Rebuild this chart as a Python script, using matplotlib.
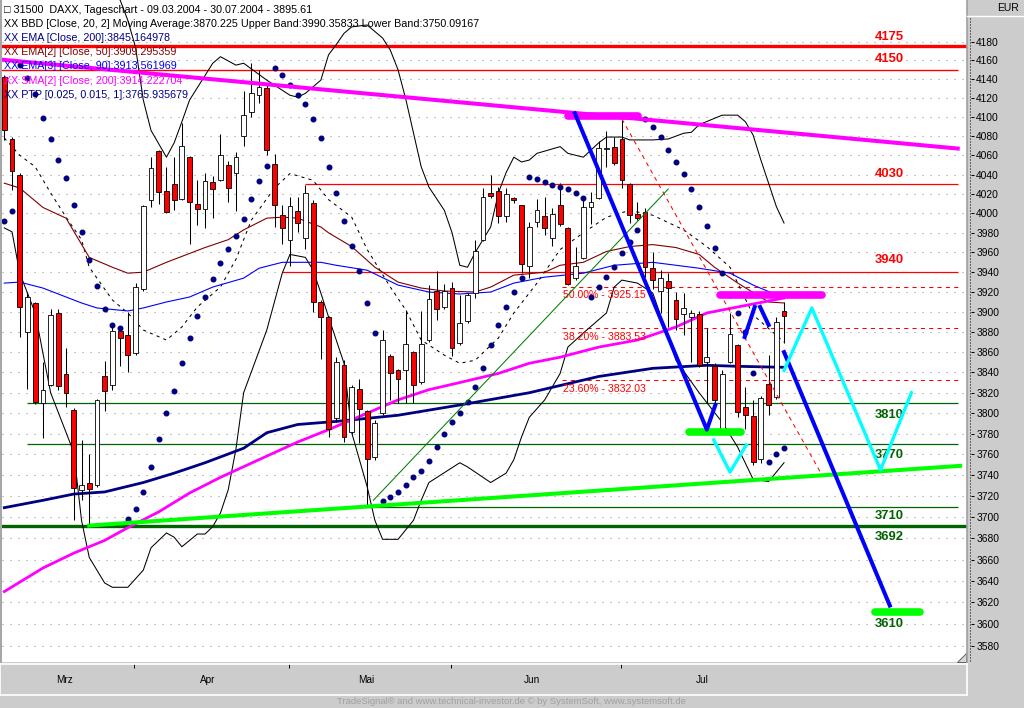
import pandas as pd
import matplotlib
matplotlib.use('Agg')
import matplotlib.pyplot as plt
from matplotlib.lines import Line2D
from matplotlib.patches import Polygon
from matplotlib.ticker import FixedLocator, NullLocator, FuncFormatter
from matplotlib import font_manager

# trading days shown (Xetra, Good Friday / Easter Monday closed)
days = pd.bdate_range('2004-03-09', '2004-07-30')
days = days.drop(pd.to_datetime(['2004-04-09', '2004-04-12']))

# daily candles
opens = [4142, 4077, 4040, 3880, 3909, 3810, 3828, 3899, 3838, 3803,
         3726, 3733, 3731, 3836, 3828, 3881, 3877, 3859, 3923, 4014,
         4064, 4023, 4030, 4015, 4058, 4010, 4004, 4032, 4034, 4050,
         4042, 4080, 4105, 4123, 4131, 4051, 3998, 3973, 4002, 3975,
         4011, 3910, 3895, 3795, 3847, 3782, 3824, 3802, 3758, 3800,
         3856, 3842, 3842, 3860, 3831, 3872, 3921, 3905, 3924, 3869,
         3891, 3919, 3973, 4021, 4023, 3997, 4016, 4008, 3946, 3991,
         3997, 3975, 4008, 3985, 3934, 3954, 4006, 4016, 4067, 4069,
         4077, 4030, 3999, 4001, 3944, 3921, 3931, 3912, 3898, 3895,
         3898, 3850, 3846, 3785, 3850, 3867, 3806, 3797, 3756, 3829,
         3816, 3901]
highs = [4144, 4079, 4042, 3920, 3910, 3850, 3903, 3903, 3864, 3805,
         3774, 3760, 3814, 3851, 3889, 3885, 3900, 3929, 4008, 4058,
         4066, 4048, 4058, 4094, 4059, 4034, 4042, 4038, 4082, 4054,
         4063, 4128, 4157, 4150, 4135, 4061, 4008, 4017, 4017, 4029,
         4014, 3912, 3896, 3855, 3852, 3828, 3833, 3803, 3793, 3882,
         3858, 3843, 3902, 3861, 3901, 3927, 3941, 3928, 3930, 3917,
         3919, 3973, 4026, 4040, 4027, 4026, 4017, 4009, 3991, 4015,
         4017, 4005, 4031, 3986, 3966, 4014, 4022, 4075, 4085, 4079,
         4097, 4031, 4012, 4005, 3960, 3942, 3939, 3920, 3919, 3902,
         3901, 3884, 3849, 3842, 3899, 3868, 3826, 3813, 3817, 3857,
         3895, 3910]
lows = [4076, 4024, 3875, 3824, 3809, 3776, 3827, 3823, 3806, 3697,
        3716, 3692, 3729, 3802, 3823, 3846, 3840, 3857, 3921, 4006,
        4010, 4000, 4003, 4014, 3969, 3988, 3985, 3995, 4033, 4012,
        4002, 4070, 4100, 4115, 4060, 3986, 3969, 3946, 3981, 3964,
        3900, 3853, 3777, 3791, 3772, 3780, 3771, 3711, 3755, 3798,
        3813, 3810, 3810, 3810, 3829, 3870, 3892, 3903, 3856, 3867,
        3889, 3914, 3972, 4016, 3990, 3991, 4011, 3939, 3934, 3986,
        3978, 3967, 3987, 3927, 3932, 3953, 3989, 4015, 4048, 4050,
        4026, 3990, 3993, 3935, 3923, 3899, 3885, 3882, 3877, 3850,
        3845, 3810, 3810, 3783, 3849, 3796, 3785, 3750, 3752, 3798,
        3814, 3869]
closes = [4086, 4044, 3905, 3915, 3811, 3823, 3897, 3827, 3820, 3728,
          3731, 3727, 3813, 3822, 3881, 3874, 3857, 3925, 4007, 4047,
          4022, 4001, 4014, 4070, 4012, 4004, 4033, 4025, 4060, 4026,
          4058, 4102, 4125, 4132, 4065, 4008, 3985, 4007, 3990, 4021,
          3910, 3895, 3785, 3850, 3777, 3826, 3804, 3756, 3790, 3872,
          3839, 3833, 3868, 3828, 3868, 3913, 3903, 3921, 3864, 3889,
          3917, 3961, 4017, 4018, 3997, 4020, 4014, 3948, 3986, 4003,
          3985, 3999, 3989, 3928, 3946, 4006, 4012, 4068, 4068, 4052,
          4034, 3998, 3995, 3945, 3932, 3934, 3924, 3893, 3904, 3899,
          3847, 3855, 3813, 3838, 3878, 3801, 3798, 3753, 3815, 3808,
          3890, 3896]

# indicators (trading-day index, value)
bb_up_i = [0, 2, 5, 7, 9, 10, 12, 15, 16, 17, 18, 19, 21, 22, 23, 24, 27, 28, 30, 31,
           34, 37, 38, 39, 41, 42, 43, 44, 45, 47, 49, 50, 51, 52, 54, 55, 57, 58, 59, 60,
           61, 63, 64, 65, 66, 67, 68, 69, 72, 73, 75, 77, 78, 80, 81, 84, 86, 88, 89, 90,
           93, 95, 96, 97, 98, 99, 100, 101]
bb_up = [4232, 4238, 4245, 4250, 4252, 4252, 4246, 4225, 4203, 4174, 4118, 4086, 4058, 4073,
         4095, 4118, 4157, 4164, 4155, 4157, 4139, 4123, 4121, 4125, 4139, 4166, 4177, 4189,
         4196, 4198, 4184, 4171, 4150, 4119, 4048, 4027, 4003, 3980, 3947, 3945, 3960, 3986,
         4021, 4042, 4058, 4053, 4055, 4062, 4069, 4062, 4058, 4073, 4079, 4079, 4076, 4076,
         4077, 4083, 4084, 4092, 4102, 4102, 4095, 4081, 4055, 4031, 4007, 3990]
bb_lo_i = [0, 1, 2, 4, 5, 6, 9, 10, 11, 13, 14, 16, 18, 19, 21, 22, 23, 25, 26, 27,
           28, 29, 30, 31, 34, 36, 37, 39, 40, 41, 42, 44, 45, 47, 48, 49, 51, 53, 54, 55,
           59, 60, 63, 65, 66, 67, 68, 70, 72, 73, 75, 78, 79, 80, 82, 84, 87, 90, 93, 95,
           97, 99, 101]
bb_lo = [3985, 3981, 3939, 3899, 3859, 3820, 3762, 3697, 3662, 3638, 3634, 3634, 3650, 3671,
         3685, 3681, 3672, 3684, 3684, 3691, 3704, 3726, 3765, 3820, 3882, 3939, 3958, 3955,
         3942, 3919, 3895, 3849, 3781, 3729, 3697, 3679, 3679, 3697, 3716, 3733, 3752, 3748,
         3733, 3742, 3755, 3777, 3796, 3813, 3839, 3865, 3879, 3899, 3925, 3932, 3929, 3919,
         3852, 3820, 3791, 3767, 3736, 3734, 3752]
ma20_i = [0, 2, 4, 6, 8, 10, 11, 14, 16, 18, 21, 23, 25, 28, 30, 32, 35, 37, 40, 42,
          45, 47, 50, 52, 54, 57, 59, 61, 64, 66, 69, 72, 75, 78, 81, 84, 88, 91, 94, 97, 101]
ma20 = [4078, 4060, 4048, 4021, 3996, 3973, 3945, 3912, 3899, 3882, 3872, 3885, 3905, 3925,
        3953, 3993, 4026, 4041, 4034, 4014, 3996, 3963, 3925, 3902, 3872, 3857, 3849, 3852,
        3874, 3899, 3929, 3963, 3980, 3996, 4003, 3998, 3983, 3966, 3945, 3897, 3870]
ema50_i = [0, 2, 5, 8, 11, 14, 16, 18, 21, 24, 26, 29, 31, 34, 36, 38, 41, 42, 45, 48,
           51, 54, 57, 61, 63, 66, 70, 72, 75, 78, 81, 84, 87, 90, 92, 95, 99, 101]
ema50 = [4031, 4026, 4006, 3995, 3955, 3945, 3939, 3940, 3950, 3959, 3965, 3973, 3983, 3995,
         3996, 3995, 3986, 3980, 3966, 3945, 3930, 3924, 3921, 3920, 3925, 3937, 3940, 3947,
         3950, 3961, 3966, 3968, 3965, 3958, 3945, 3929, 3910, 3909]
ema90_i = [0, 2, 5, 8, 10, 12, 16, 18, 21, 24, 27, 31, 33, 36, 38, 41, 43, 47, 51, 55,
           59, 63, 66, 70, 75, 79, 84, 87, 90, 94, 97, 101]
ema90 = [3929, 3930, 3924, 3915, 3909, 3904, 3901, 3904, 3910, 3915, 3925, 3934, 3944, 3950,
         3950, 3950, 3947, 3942, 3927, 3920, 3918, 3920, 3929, 3935, 3939, 3947, 3950, 3947,
         3944, 3939, 3927, 3914]
ema200_i = [0, 5, 9, 13, 18, 22, 26, 31, 34, 38, 43, 51, 59, 68, 77, 84, 91, 95, 101]
ema200 = [3709, 3716, 3722, 3724, 3733, 3742, 3752, 3766, 3781, 3789, 3792, 3798, 3808,
          3820, 3836, 3844, 3847, 3846, 3845]
sma200_i = [0, 5, 9, 13, 16, 20, 24, 28, 33, 38, 42, 47, 51, 55, 59, 64, 68, 72, 77, 82,
            87, 91, 95, 101]
sma200 = [3630, 3652, 3666, 3678, 3690, 3705, 3723, 3738, 3755, 3772, 3784, 3800, 3813, 3823,
          3830, 3839, 3849, 3855, 3865, 3872, 3885, 3899, 3905, 3914]
sar_i = list(range(0, 98)) + [99, 100, 101]
sar = [3992, 4002, 4155, 4141, 4124, 4099, 4077, 4055, 4036, 4008, 3981, 3952, 3926, 3903,
       3887, 3884, 3698, 3708, 3724, 3748, 3775, 3800, 3822, 3849, 3874, 3896, 3915, 3933,
       3949, 3964, 3977, 3994, 4015, 4033, 4049, 4152, 4145, 4134, 4123, 4114, 4098, 4078,
       4048, 4021, 3992, 3967, 3941, 3909, 3879, 3715, 3719, 3724, 3731, 3738, 3744, 3754,
       3767, 3780, 3791, 3800, 3811, 3826, 3844, 3867, 3887, 3905, 3920, 3934, 4037, 4035,
       4032, 4029, 4027, 4025, 4021, 4016, 3915, 3925, 3935, 3945, 3959, 3971, 3983, 4098,
       4090, 4079, 4065, 4053, 4041, 4025, 4006, 3987, 3965, 3939, 3917, 3899, 3880, 3839,
       3753, 3760, 3766]

# drawn analysis: horizontal levels and trend lines (index, price)
red_levels = [4175, 4150, 4030, 3940]
green_levels = [3810, 3770, 3710, 3692]
fib_levels = [3925.15, 3883.53, 3832.03]
fib_names = ['50.00%', '38.20%', '23.60%']
magenta_trend = [(-0.6, 4161), (123.5, 4067)]
magenta_marks = [[(73.0, 4101), (82.1, 4101)], [(92.7, 3917), (105.9, 3917)]]
lime_marks = [[(88.7, 3782), (95.4, 3782)], [(112.8, 3611), (118.6, 3611)]]
lime_trend = [(11.0, 3692), (123.8, 3749)]
red_dash_trend = [(80.0, 4098), (105.7, 3743)]
green_trend = [(47.8, 3716), (86.0, 4025)]
blue_legs = [[(73.9, 4104), (91.0, 3784), (92.1, 3808)],
             [(95.9, 3875), (97.2, 3905)],
             [(97.9, 3905), (99.0, 3887)],
             [(101.0, 3860), (114.7, 3617)]]
cyan_legs = [[(91.9, 3774), (94.0, 3743), (96.1, 3769)],
             [(101.0, 3842), (104.6, 3904), (113.5, 3745), (117.5, 3820)]]
y_ticks = list(range(3580, 4181, 20))

names = {f.name for f in font_manager.fontManager.ttflist}
sans = 'Liberation Sans' if 'Liberation Sans' in names else 'DejaVu Sans'
narrow = 'Liberation Sans Narrow' if 'Liberation Sans Narrow' in names else sans
plt.rcParams['font.family'] = [sans, 'DejaVu Sans']

W, H = 1024, 708
grey = '#cccccc'
fig = plt.figure(figsize=(W / 100, H / 100), dpi=100, facecolor=grey)
ax = fig.add_axes([2 / W, 46 / H, 965 / W, 662 / H], facecolor='white')
ax.set_yscale('log')
ax.set_xlim(-0.3, 124.7)
ax.set_ylim(3565, 4225)

for v in y_ticks:
    ax.axhline(v, color='#8c8c8c', lw=0.72, ls=(0, (1, 7)), zorder=0)

# horizontal levels
xr = 123.5
ax.hlines(4175, -1, 130, color='#ff0000', lw=2.4, zorder=1)
ax.hlines(4150, -1, xr, color='#ff0000', lw=1.0, zorder=1)
ax.hlines(4030, 39, xr, color='#ff0000', lw=0.9, zorder=1)
ax.hlines(3940, 36, xr, color='#ff0000', lw=0.9, zorder=1)
ax.hlines([3810, 3770], 3, xr, color='#006400', lw=0.9, zorder=1)
ax.hlines(3710, 46, xr, color='#006400', lw=0.9, zorder=1)
ax.hlines(3692, -1, 130, color='#006400', lw=2.4, zorder=1)
ax.hlines(fib_levels, 72.2, 124, color='#ff0000', lw=0.75, ls=(0, (4, 4)), zorder=1)
for lv, nm in zip(fib_levels, fib_names):
    ax.annotate(f'{nm} - {lv:.2f}', (72.4, lv), xytext=(0, -6), textcoords='offset points',
                ha='left', va='center', fontsize=7.6, color='#ff0000')

lab_x = 114.6
offs = {4175: 7, 4150: 8, 4030: 7, 3940: 8.5, 3810: -8.5, 3770: -7.5, 3710: -6.5, 3692: -8}
for lv in red_levels:
    ax.annotate(str(lv), (lab_x, lv), xytext=(0, offs[lv]), textcoords='offset points',
                ha='center', va='center', fontsize=9.4, fontweight='bold', color='#ff0000')
for lv in green_levels:
    ax.annotate(str(lv), (lab_x, lv), xytext=(0, offs[lv]), textcoords='offset points',
                ha='center', va='center', fontsize=9.4, fontweight='bold', color='#006400')
ax.annotate('3610', (lab_x, 3611), xytext=(0, -8.5), textcoords='offset points',
            ha='center', va='center', fontsize=9.4, fontweight='bold', color='#006400')

# indicators
ax.plot(bb_up_i, bb_up, color='black', lw=0.75, zorder=2)
ax.plot(bb_lo_i, bb_lo, color='black', lw=0.75, zorder=2)
ax.plot(ma20_i, ma20, color='black', lw=0.75, ls=(0, (3, 4)), zorder=2)
ax.plot(ema50_i, ema50, color='#800000', lw=0.8, zorder=2)
ax.plot(ema90_i, ema90, color='#0000ff', lw=0.8, zorder=2)
ax.plot(ema200_i, ema200, color='#000080', lw=2.0, zorder=2)
ax.plot(sma200_i, sma200, color='#ff00ff', lw=2.0, zorder=2)

# candles
x = list(range(len(closes)))
body_lo = [min(o, c) for o, c in zip(opens, closes)]
body_h = [max(abs(c - o), 0.8) for o, c in zip(opens, closes)]
cols = ['#ff0000' if c < o else 'white' for o, c in zip(opens, closes)]
ax.vlines(x, lows, highs, color='black', lw=0.75, zorder=3)
ax.bar(x, body_h, bottom=body_lo, width=0.62, color=cols, edgecolor='black', lw=0.6, zorder=4)

ax.plot(sar_i, sar, ls='none', marker='o', ms=3.3, color='#000080', zorder=5)

# trend lines
def seg(pts, **kw):
    ax.plot([p[0] for p in pts], [p[1] for p in pts], **kw)

seg(magenta_trend, color='#ff00ff', lw=2.9, zorder=6)
seg(lime_trend, color='#00ff00', lw=2.9, zorder=6)
seg(red_dash_trend, color='#ff0000', lw=0.75, ls=(0, (4, 4)), zorder=6)
seg(green_trend, color='#008000', lw=0.75, zorder=6)
for s in magenta_marks:
    seg(s, color='#ff00ff', lw=5.5, solid_capstyle='round', zorder=7)
for s in lime_marks:
    seg(s, color='#00ff00', lw=5.5, solid_capstyle='round', zorder=7)
for s in blue_legs:
    seg(s, color='#0000ff', lw=2.9, zorder=7)
for s in cyan_legs:
    seg(s, color='#00ffff', lw=2.4, zorder=7)

# right price axis
ax.yaxis.set_major_locator(FixedLocator(y_ticks))
ax.yaxis.set_minor_locator(NullLocator())
ax.yaxis.set_major_formatter(FuncFormatter(lambda v, p: f'{v:.0f}'))
ax.yaxis.tick_right()
ax.spines['right'].set_position(('outward', 3.0))
for s in ax.spines.values():
    s.set_visible(False)
ax.tick_params(axis='y', which='major', direction='out', length=2.4, width=0.72,
               pad=1.2, labelsize=7.4)
ax.tick_params(axis='x', bottom=False, labelbottom=False)

def fline(xs, ys, **kw):
    fig.add_artist(Line2D([v / W for v in xs], [1 - v / H for v in ys],
                          transform=fig.transFigure, **kw))

fline([966.5, 966.5], [0, 662], color='#a0a0a0', lw=1.2)
fline([969.5, 969.5], [18, 662], color='black', lw=0.72, ls=(0, (1, 2)))
fline([967, 1024], [16, 16], color='white', lw=1.0)
fline([1, 1], [0, 662], color='#a0a0a0', lw=1.2)
fig.text(1019 / W, 1 - 8 / H, 'EUR', ha='right', va='center', fontsize=7.5)
# little resize grip in the corner of the chart
fig.add_artist(Polygon([(957 / W, 1 - 662 / H), (966 / W, 1 - 662 / H), (966 / W, 1 - 653 / H)],
                       closed=True, transform=fig.transFigure, facecolor='#d8d8d8',
                       edgecolor='#606060', lw=0.7))

# legend block
legend = [
    ('\u25a1 31500  DAXX, Tageschart - 09.03.2004 - 30.07.2004 - 3895.61', 'black'),
    ('XX BBD [Close, 20, 2] Moving Average:3870.225 Upper Band:3990.35833 Lower Band:3750.09167', 'black'),
    ('XX EMA [Close, 200]:3845.164978', '#000080'),
    ('XX EMA[2] [Close, 50]:3909.295359', '#800000'),
    ('XX EMA[3] [Close, 90]:3913.561969', '#0000ff'),
    ('XX SMA[2] [Close, 200]:3914.222704', '#ff00ff'),
    ('XX PTP [0.025, 0.015, 1]:3765.935679', '#000080'),
]
for k, (txt, c) in enumerate(legend):
    fig.text(4 / W, 1 - (10 + 14.1 * k) / H, txt, ha='left', va='center',
             fontsize=7.75, color=c)

# time axis panel
ax2 = fig.add_axes([0, 13 / H, 967 / W, 31 / H], facecolor=grey)
ax2.set_xlim(ax.get_xlim())
ax2.set_ylim(0, 1)
for s in ax2.spines.values():
    s.set_color('white')
    s.set_linewidth(1.2)
ax2.set_yticks([])
months = pd.Series(range(len(days)), index=days).groupby(days.month)
starts = [g.iloc[0] for _, g in months][1:]
ax2.set_xticks(starts)
ax2.set_xticklabels([])
ax2.tick_params(axis='x', direction='in', bottom=False, top=True, length=3.2,
                width=0.72, color='black')
mnames = {3: 'Mrz', 4: 'Apr', 5: 'Mai', 6: 'Jun', 7: 'Jul'}
for m, g in months:
    ax2.text((g.iloc[0] + g.iloc[-1]) / 2, 0.47, mnames[m], ha='center', va='center',
             fontsize=7.2, family=[narrow, 'DejaVu Sans'])

fig.text(0.499, 1 - 702 / H,
         'TradeSignal\u00ae and www.technical-investor.de \u00a9 by SystemSoft, www.systemsoft.de',
         ha='center', va='center', fontsize=6.8, color='#a0a0a0', family=[narrow, 'DejaVu Sans'])

fig.savefig('out.png', dpi=100, facecolor=grey)
